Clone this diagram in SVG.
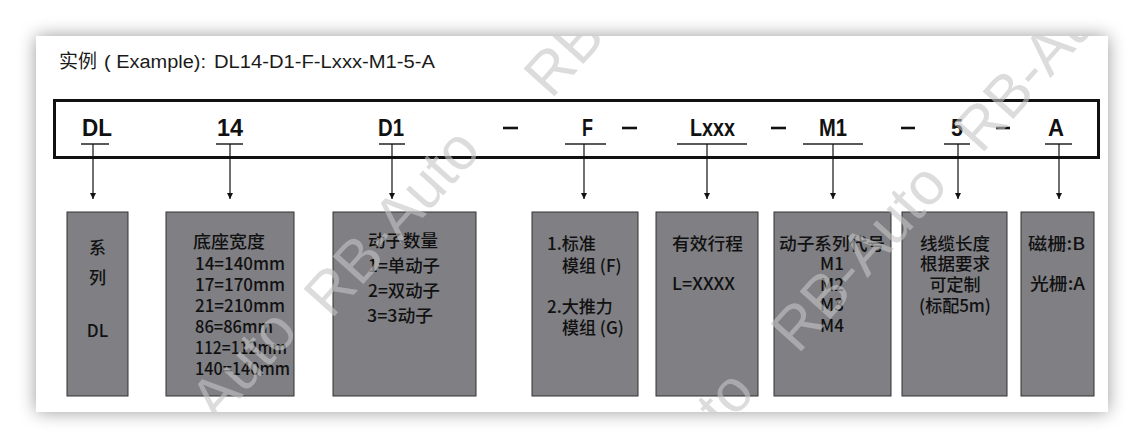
<svg xmlns="http://www.w3.org/2000/svg" width="1146" height="448" viewBox="0 0 1146 448">
<style>
.code{font-family:"Liberation Sans",Arial,sans-serif;font-weight:bold;font-size:24px;fill:#111}
.ul{stroke:#222;stroke-width:1.5}
.dash{stroke:#111;stroke-width:2.6}
.conn{stroke:#111;stroke-width:1.2;fill:none}
.box{fill:#7f7f84;stroke:#333;stroke-width:1}
.bt{font-family:"Noto Sans CJK SC","Noto Sans",sans-serif;font-size:17px;font-weight:500;fill:#111}
.btc{font-family:"Noto Sans CJK SC","Noto Sans",sans-serif;font-size:17px;font-weight:500;fill:#111;text-anchor:middle}
.wm{font-family:"Liberation Sans",Arial,sans-serif;font-size:60px;fill:#c6c6c6;opacity:0.6}
.hd{font-family:"Liberation Sans",Arial,"Noto Sans CJK SC",sans-serif;font-size:18px;fill:#1a1a1a}
</style>
<defs>
<filter id="sh" x="-5%" y="-10%" width="110%" height="120%">
<feGaussianBlur in="SourceAlpha" stdDeviation="9"/>
<feComponentTransfer><feFuncA type="linear" slope="0.4"/></feComponentTransfer>
<feMerge><feMergeNode/><feMergeNode in="SourceGraphic"/></feMerge>
</filter>
<marker id="ah" markerWidth="6" markerHeight="6" refX="6" refY="3" orient="auto" markerUnits="userSpaceOnUse">
<path d="M0,0 L6,3 L0,6 z" fill="#111"/>
</marker>
<clipPath id="card"><rect x="36" y="36" width="1072" height="376"/></clipPath>
</defs>
<rect width="1146" height="448" fill="#ffffff"/>
<rect x="36" y="36" width="1072" height="376" fill="#ffffff" filter="url(#sh)"/>

<g id="header">
<text class="hd" y="68"><tspan x="59" font-family="Noto Sans CJK SC, sans-serif" font-size="19" textLength="38" lengthAdjust="spacingAndGlyphs">实例</tspan><tspan x="104" textLength="102" lengthAdjust="spacingAndGlyphs">( Example):</tspan><tspan x="214" textLength="221" lengthAdjust="spacingAndGlyphs">DL14-D1-F-Lxxx-M1-5-A</tspan></text>
</g>

<g id="code-bar">
<rect x="54.5" y="100.5" width="1044" height="57" fill="none" stroke="#111" stroke-width="3"/>
<text class="code" x="82" y="136" textLength="30" lengthAdjust="spacingAndGlyphs">DL</text>
<text class="code" x="217" y="136" textLength="26" lengthAdjust="spacingAndGlyphs">14</text>
<text class="code" x="378" y="136" textLength="26" lengthAdjust="spacingAndGlyphs">D1</text>
<text class="code" x="582" y="136" textLength="11" lengthAdjust="spacingAndGlyphs">F</text>
<text class="code" x="690" y="136" textLength="45" lengthAdjust="spacingAndGlyphs">Lxxx</text>
<text class="code" x="819" y="136" textLength="28" lengthAdjust="spacingAndGlyphs">M1</text>
<text class="code" x="951" y="136" textLength="12" lengthAdjust="spacingAndGlyphs">5</text>
<text class="code" x="1048" y="136" textLength="16" lengthAdjust="spacingAndGlyphs">A</text>
<line class="dash" x1="503" y1="128" x2="518" y2="128"/>
<line class="dash" x1="622" y1="128" x2="637" y2="128"/>
<line class="dash" x1="771" y1="128" x2="786" y2="128"/>
<line class="dash" x1="901" y1="128" x2="915" y2="128"/>
<line class="dash" x1="996" y1="128" x2="1010" y2="128"/>
<line class="ul" x1="81" y1="144" x2="109" y2="144"/>
<line class="ul" x1="216" y1="144" x2="243" y2="144"/>
<line class="ul" x1="379" y1="144" x2="405" y2="144"/>
<line class="ul" x1="565" y1="144" x2="606" y2="144"/>
<line class="ul" x1="677" y1="144" x2="747" y2="144"/>
<line class="ul" x1="803" y1="144" x2="863" y2="144"/>
<line class="ul" x1="944" y1="144" x2="970" y2="144"/>
<line class="ul" x1="1045" y1="144" x2="1072" y2="144"/>
</g>

<g id="connectors">
<line class="conn" x1="93" y1="144" x2="93" y2="199" marker-end="url(#ah)"/>
<line class="conn" x1="230" y1="144" x2="230" y2="199" marker-end="url(#ah)"/>
<line class="conn" x1="392" y1="144" x2="392" y2="199" marker-end="url(#ah)"/>
<line class="conn" x1="584" y1="144" x2="584" y2="199" marker-end="url(#ah)"/>
<line class="conn" x1="707" y1="144" x2="707" y2="199" marker-end="url(#ah)"/>
<line class="conn" x1="833" y1="144" x2="833" y2="199" marker-end="url(#ah)"/>
<line class="conn" x1="958" y1="144" x2="958" y2="199" marker-end="url(#ah)"/>
<line class="conn" x1="1059" y1="144" x2="1059" y2="199" marker-end="url(#ah)"/>
</g>

<g id="box-series">
<rect class="box" x="67" y="212" width="61" height="184"/>
<text class="btc" x="97.5" y="254">系</text>
<text class="btc" x="97.5" y="284">列</text>
<text class="btc" x="97.5" y="337">DL</text>
</g>
<g id="box-width">
<rect class="box" x="166" y="212" width="128" height="184"/>
<text class="bt" x="193" y="248" textLength="72" lengthAdjust="spacingAndGlyphs">底座宽度</text>
<text class="bt" x="195" y="270" textLength="90" lengthAdjust="spacingAndGlyphs">14=140mm</text>
<text class="bt" x="195" y="291" textLength="90" lengthAdjust="spacingAndGlyphs">17=170mm</text>
<text class="bt" x="195" y="312" textLength="90" lengthAdjust="spacingAndGlyphs">21=210mm</text>
<text class="bt" x="195" y="333" textLength="78" lengthAdjust="spacingAndGlyphs">86=86mm</text>
<text class="bt" x="195" y="354" textLength="92" lengthAdjust="spacingAndGlyphs">112=112mm</text>
<text class="bt" x="195" y="375" textLength="95" lengthAdjust="spacingAndGlyphs">140=140mm</text>
</g>
<g id="box-mover">
<rect class="box" x="333" y="212" width="143" height="184"/>
<text class="bt" x="368" y="247" textLength="70" lengthAdjust="spacingAndGlyphs">动子数量</text>
<text class="bt" x="368" y="272" textLength="72" lengthAdjust="spacingAndGlyphs">1=单动子</text>
<text class="bt" x="368" y="297" textLength="72" lengthAdjust="spacingAndGlyphs">2=双动子</text>
<text class="bt" x="367" y="322" textLength="66" lengthAdjust="spacingAndGlyphs">3=3动子</text>
</g>
<g id="box-type">
<rect class="box" x="532" y="212" width="106" height="184"/>
<text class="bt" x="547" y="250">1.标准</text>
<text class="bt" x="562" y="272">模组 (F)</text>
<text class="bt" x="547" y="313">2.大推力</text>
<text class="bt" x="562" y="334">模组 (G)</text>
</g>
<g id="box-stroke">
<rect class="box" x="656" y="212" width="102" height="184"/>
<text class="bt" x="672" y="250" textLength="71" lengthAdjust="spacingAndGlyphs">有效行程</text>
<text class="bt" x="672" y="290" textLength="63" lengthAdjust="spacingAndGlyphs">L=XXXX</text>
</g>
<g id="box-code">
<rect class="box" x="774" y="212" width="117" height="184"/>
<text class="btc" x="832" y="250" textLength="106" lengthAdjust="spacingAndGlyphs">动子系列代号</text>
<text class="btc" x="832" y="270">M1</text>
<text class="btc" x="832" y="291">M2</text>
<text class="btc" x="832" y="311">M3</text>
<text class="btc" x="832" y="332">M4</text>
</g>
<g id="box-cable">
<rect class="box" x="902" y="212" width="105" height="184"/>
<text class="btc" x="955" y="250" textLength="70" lengthAdjust="spacingAndGlyphs">线缆长度</text>
<text class="btc" x="955" y="270" textLength="70" lengthAdjust="spacingAndGlyphs">根据要求</text>
<text class="btc" x="955" y="291">可定制</text>
<text class="btc" x="955" y="312">(标配5m)</text>
</g>
<g id="box-scale">
<rect class="box" x="1021" y="212" width="73" height="184"/>
<text class="bt" x="1028" y="250" textLength="57" lengthAdjust="spacingAndGlyphs">磁栅:B</text>
<text class="bt" x="1030" y="290" textLength="55" lengthAdjust="spacingAndGlyphs">光栅:A</text>
</g>

<g id="watermarks" clip-path="url(#card)">
<text class="wm" transform="translate(331,320) rotate(-48)">RB-Auto</text>
<text class="wm" transform="translate(551,100) rotate(-48)">RB-Auto</text>
<text class="wm" transform="translate(148,501) rotate(-48)">RB-Auto</text>
<text class="wm" transform="translate(798,355) rotate(-48)">RB-Auto</text>
<text class="wm" transform="translate(605,562) rotate(-48)">RB-Auto</text>
<text class="wm" transform="translate(981,155) rotate(-48)">RB-Auto</text>
</g>
</svg>
